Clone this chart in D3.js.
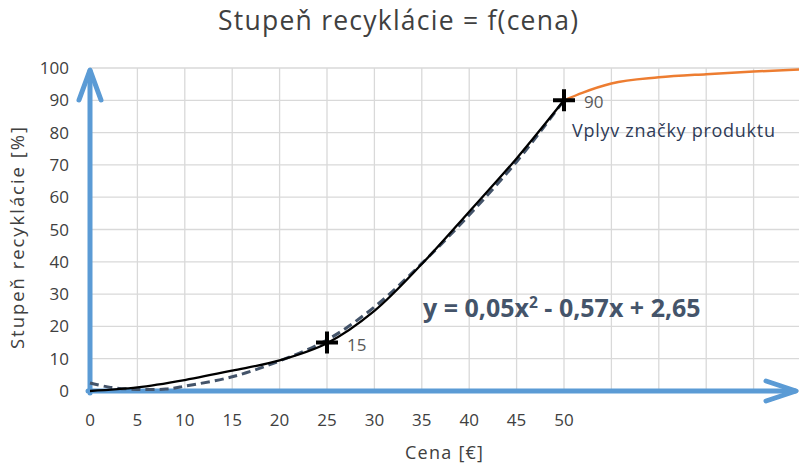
<!DOCTYPE html>
<html><head><meta charset="utf-8">
<script src="https://cdn.jsdelivr.net/npm/d3@7"></script>
<style>
html,body{margin:0;padding:0;background:#fff;}
svg{display:block;}
text{font-family:"Open Sans",sans-serif;}
</style></head>
<body>
<svg id="chart" width="799" height="470"></svg>
<script>
// ---- data ----
const xTicks = [0,5,10,15,20,25,30,35,40,45,50];
const yTicks = [0,10,20,30,40,50,60,70,80,90,100];
const gridX = [0,5,10,15,20,25,30,35,40,45,50,55,60,65,70,75];
const curveX = [0,5,10,15,20,25,30,35,40,45,50];
const curveY = [0,1.1,3.4,6.3,9.5,14.8,24.8,39.3,55.5,72,90];
const trendX = [0,2,5,8,10,15,20,25,30,35,40,45,50];
const trendY = [2.5,1.2,0.5,0.6,1.5,4.4,9.3,15.8,26,39.5,54.5,71,90];
const brandX = [50,52,55,60,65,70,75];
const brandY = [90,92.4,95.2,97.1,98.1,98.9,99.6];
const markX = [25,50];
const markY = [15,90];
const markLabels = ["15","90"];
const titleText = "Stupeň recyklácie = f(cena)";
const xTitle = "Cena [€]";
const yTitle = "Stupeň recyklácie [%]";
const equation = ["y = 0,05x", "2", " - 0,57x + 2,65"];
const brandLabel = "Vplyv značky produktu";

// ---- chart ----
const svg = d3.select("#chart");
const x = d3.scaleLinear().domain([0,75]).range([90,801]);
const y = d3.scaleLinear().domain([0,100]).range([391,68]);

const defs = svg.append("defs");
defs.append("clipPath").attr("id","clip").append("rect")
  .attr("x",0).attr("y",0).attr("width",799).attr("height",470);

// gridlines
const grid = svg.append("g").attr("clip-path","url(#clip)");
grid.selectAll("line.v").data(gridX).join("line")
  .attr("x1",d=>x(d)).attr("x2",d=>x(d)).attr("y1",y(0)).attr("y2",y(100))
  .attr("stroke","#d9d9d9").attr("stroke-width",1.3);
grid.selectAll("line.h").data(yTicks).join("line")
  .attr("x1",x(0)).attr("x2",799).attr("y1",d=>y(d)).attr("y2",d=>y(d))
  .attr("stroke","#d9d9d9").attr("stroke-width",1.3);

// tick labels
svg.append("g").selectAll("text").data(yTicks).join("text")
  .attr("x",69).attr("y",d=>y(d)+6)
  .attr("text-anchor","end").attr("font-size",17).attr("fill","#404040")
  .text(d=>d);
svg.append("g").selectAll("text").data(xTicks).join("text")
  .attr("x",d=>x(d)).attr("y",426)
  .attr("text-anchor","middle").attr("font-size",17).attr("fill","#404040")
  .text(d=>d);

// titles
svg.append("text").attr("x",398).attr("y",29.5).attr("text-anchor","middle")
  .attr("font-size",26.5).attr("fill","#404040")
  .attr("textLength",360).attr("lengthAdjust","spacing").text(titleText);
svg.append("text").attr("x",444).attr("y",459).attr("text-anchor","middle")
  .attr("font-size",18).attr("fill","#404040")
  .attr("textLength",78).attr("lengthAdjust","spacing").text(xTitle);
svg.append("text").attr("transform","translate(24,238) rotate(-90)")
  .attr("text-anchor","middle").attr("font-size",18.5).attr("fill","#404040")
  .attr("textLength",222).attr("lengthAdjust","spacing").text(yTitle);

// blue axes with arrowheads
const blue = "#5b9bd5";
const ax = svg.append("g").attr("stroke",blue).attr("stroke-width",5).attr("fill","none")
  .attr("stroke-linecap","round").attr("stroke-linejoin","round");
ax.append("line").attr("x1",x(0)).attr("x2",x(0)).attr("y1",y(0)+2).attr("y2",y(100)+3);
ax.append("polyline").attr("points",[[x(0)-11,y(100)+32],[x(0),y(100)+2],[x(0)+11,y(100)+32]].join(" "));
ax.append("line").attr("x1",x(0)-2).attr("x2",795).attr("y1",y(0)).attr("y2",y(0));
ax.append("polyline").attr("points",[[766,y(0)-10],[796,y(0)],[766,y(0)+10]].join(" "));

// curves
const smooth = d3.line().x(d=>x(d[0])).y(d=>y(d[1])).curve(d3.curveCatmullRom.alpha(0.5));
const mono = d3.line().x(d=>x(d[0])).y(d=>y(d[1])).curve(d3.curveMonotoneX);
const lines = svg.append("g").attr("clip-path","url(#clip)");
lines.append("path").datum(d3.zip(brandX,brandY)).attr("d",mono)
  .attr("fill","none").attr("stroke","#ed7d31").attr("stroke-width",2.5);
lines.append("path").datum(d3.zip(trendX,trendY)).attr("d",smooth)
  .attr("fill","none").attr("stroke","#44546a").attr("stroke-width",3).attr("stroke-dasharray","9,5");
lines.append("path").datum(d3.zip(curveX,curveY)).attr("d",smooth)
  .attr("fill","none").attr("stroke","#000").attr("stroke-width",2.3);

// cross markers
const marks = d3.zip(markX,markY,markLabels);
const mg = svg.append("g").attr("stroke","#000").attr("stroke-width",4);
mg.selectAll("path").data(marks).join("path")
  .attr("d",d=>`M${x(d[0])-11},${y(d[1])}H${x(d[0])+11}M${x(d[0])},${y(d[1])-11}V${y(d[1])+11}`);
svg.append("g").selectAll("text").data(marks).join("text")
  .attr("x",d=>x(d[0])+20).attr("y",d=>y(d[1])+8)
  .attr("font-size",17).attr("fill","#595959").text(d=>d[2]);

// brand label
svg.append("text").attr("x",572).attr("y",137).attr("font-size",18)
  .attr("fill","#2e3b57").attr("textLength",203).attr("lengthAdjust","spacing")
  .text(brandLabel);

// equation
const eq = svg.append("text").attr("x",423).attr("y",317).attr("font-size",25)
  .attr("font-weight","bold").attr("fill","#44546a");
eq.append("tspan").text(equation[0]);
eq.append("tspan").attr("dy",-9).attr("font-size",15.5).text(equation[1]);
eq.append("tspan").attr("dy",9).text(equation[2]);
</script>
</body></html>
